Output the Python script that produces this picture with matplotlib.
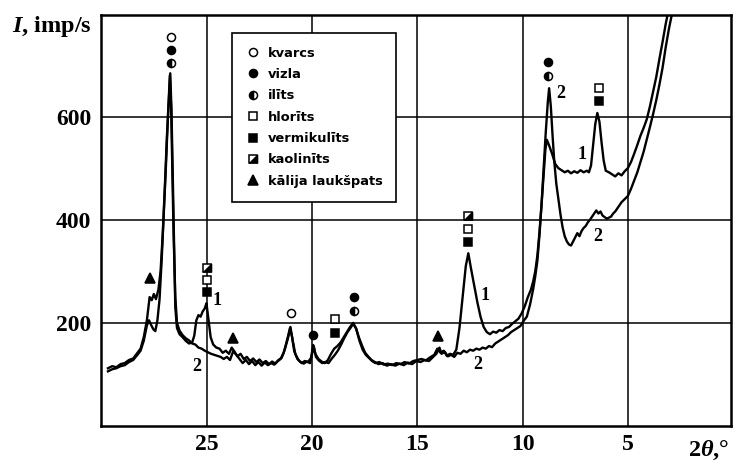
import matplotlib
matplotlib.use("Agg")
import matplotlib.pyplot as plt
from matplotlib.legend_handler import HandlerTuple

plt.rcParams['mathtext.fontset'] = 'custom'
plt.rcParams['mathtext.rm'] = 'Liberation Serif:bold'
plt.rcParams['mathtext.it'] = 'Liberation Serif:italic:bold'
plt.rcParams['mathtext.bf'] = 'Liberation Serif:bold'

# ---------------- data ----------------
c1_x = [29.7, 29.5, 29.3, 29.1, 28.9, 28.7, 28.5, 28.3, 28.15, 28.0, 27.85, 27.72, 27.62, 27.52, 27.42,
        27.3, 27.2, 27.1, 27.0, 26.9, 26.8, 26.74, 26.68, 26.62, 26.56, 26.5, 26.42, 26.3, 26.15, 26.0,
        25.85, 25.7, 25.6, 25.5, 25.4, 25.3, 25.2, 25.1, 25.02, 24.92, 24.82, 24.7, 24.55, 24.4, 24.25,
        24.1, 23.95, 23.82, 23.7, 23.55, 23.4, 23.25, 23.1, 22.95, 22.8, 22.65, 22.5, 22.35, 22.2, 22.05,
        21.9, 21.75, 21.6, 21.45, 21.3, 21.15, 21.03, 20.92, 20.8, 20.65, 20.5, 20.35, 20.2, 20.05, 19.95,
        19.85, 19.7, 19.55, 19.4, 19.25, 19.1, 18.95, 18.8, 18.65, 18.5, 18.35, 18.2, 18.05, 17.9, 17.75,
        17.6, 17.45, 17.3, 17.15, 17.0, 16.8, 16.6, 16.4, 16.2, 16.0, 15.8, 15.6, 15.4, 15.2, 15.0,
        14.8, 14.6, 14.4, 14.2, 14.05, 13.9, 13.75, 13.6, 13.45, 13.3, 13.15, 13.0, 12.85, 12.7, 12.58,
        12.45, 12.3, 12.15, 12.0, 11.85, 11.7, 11.55, 11.4, 11.25, 11.1, 10.95, 10.8, 10.65, 10.5, 10.35,
        10.2, 10.05, 9.9, 9.75, 9.6, 9.5, 9.4, 9.3, 9.2, 9.1, 9.0, 8.92, 8.85, 8.75, 8.6,
        8.45, 8.3, 8.15, 8.0, 7.85, 7.7, 7.55, 7.4, 7.25, 7.1, 6.95, 6.85, 6.75, 6.65, 6.55,
        6.45, 6.35, 6.25, 6.15, 6.05, 5.9, 5.75, 5.6, 5.45, 5.3, 5.15, 5.0, 4.85, 4.7, 4.55,
        4.4, 4.25, 4.1, 3.95, 3.8, 3.65, 3.5, 3.35, 3.2, 3.1]
c1_y = [112, 116, 114, 120, 122, 128, 131, 142, 150, 172, 205, 250, 244, 256, 246,
        265, 300, 370, 460, 560, 640, 684, 610, 480, 340, 230, 190, 178, 172, 165,
        160, 162, 175, 205, 215, 212, 222, 228, 238, 205, 172, 158, 152, 150, 142,
        146, 140, 152, 145, 135, 140, 130, 134, 126, 131, 124, 129, 122, 126, 120,
        125, 121, 128, 132, 148, 170, 192, 165, 140, 128, 122, 126, 124, 132, 157,
        140, 130, 125, 122, 128, 140, 150, 155, 162, 172, 182, 192, 200, 188, 165,
        148, 138, 132, 126, 122, 124, 119, 121, 118, 122, 120, 124, 121, 126, 128,
        130, 127, 133, 138, 150, 142, 146, 136, 140, 138, 148, 190, 250, 310, 335,
        305, 272, 240, 212, 192, 182, 178, 183, 181, 186, 184, 190, 192, 198, 203,
        208, 218, 232, 250, 265, 280, 300, 330, 375, 430, 490, 535, 555, 545, 528,
        508, 500, 496, 492, 495, 490, 494, 491, 496, 492, 495, 492, 505, 545, 585,
        607, 590, 550, 515, 495, 492, 488, 484, 490, 486, 494, 500, 512, 528, 545,
        563, 578, 595, 620, 648, 677, 712, 745, 780, 800]

c2_x = [29.7, 29.5, 29.3, 29.1, 28.9, 28.7, 28.5, 28.3, 28.15, 28.0, 27.85, 27.75, 27.65, 27.55, 27.45,
        27.35, 27.25, 27.15, 27.05, 26.95, 26.85, 26.76, 26.7, 26.64, 26.58, 26.5, 26.42, 26.3, 26.15, 26.0,
        25.85, 25.7, 25.55, 25.4, 25.25, 25.1, 24.95, 24.8, 24.65, 24.5, 24.35, 24.2, 24.05, 23.9, 23.75,
        23.6, 23.45, 23.3, 23.15, 23.0, 22.85, 22.7, 22.55, 22.4, 22.25, 22.1, 21.95, 21.8, 21.65, 21.5,
        21.35, 21.2, 21.05, 20.95, 20.85, 20.7, 20.55, 20.4, 20.25, 20.1, 20.0, 19.92, 19.82, 19.68, 19.52,
        19.38, 19.22, 19.08, 18.92, 18.78, 18.62, 18.48, 18.32, 18.18, 18.05, 17.92, 17.78, 17.62, 17.48, 17.32,
        17.18, 17.02, 16.85, 16.65, 16.45, 16.25, 16.05, 15.85, 15.65, 15.45, 15.25, 15.05, 14.85, 14.65, 14.45,
        14.25, 14.1, 13.95, 13.85, 13.7, 13.55, 13.4, 13.25, 13.1, 12.95, 12.8, 12.65, 12.5, 12.35, 12.2,
        12.05, 11.9, 11.75, 11.6, 11.45, 11.3, 11.15, 11.0, 10.85, 10.7, 10.55, 10.4, 10.25, 10.1, 9.95,
        9.8, 9.65, 9.5, 9.4, 9.3, 9.2, 9.1, 9.0, 8.9, 8.8, 8.74, 8.66, 8.58, 8.5, 8.4,
        8.3, 8.2, 8.1, 8.0, 7.9, 7.8, 7.7, 7.6, 7.5, 7.4, 7.3, 7.2, 7.1, 7.0, 6.9,
        6.8, 6.7, 6.6, 6.5, 6.4, 6.3, 6.2, 6.1, 6.0, 5.9, 5.8, 5.7, 5.6, 5.5, 5.4,
        5.3, 5.2, 5.1, 5.0, 4.85, 4.7, 4.55, 4.4, 4.25, 4.1, 3.95, 3.8, 3.65, 3.5, 3.35,
        3.2, 3.05, 2.9]
c2_y = [106, 110, 112, 116, 118, 124, 128, 138, 146, 165, 195, 205, 196, 188, 184,
        205, 245, 320, 410, 500, 600, 680, 620, 500, 370, 250, 200, 185, 176, 170,
        166, 160, 158, 152, 150, 146, 143, 140, 138, 136, 134, 130, 134, 128, 145,
        138, 130, 122, 128, 120, 126, 118, 124, 117, 123, 118, 122, 119, 125, 130,
        142, 165, 190, 172, 145, 130, 124, 121, 125, 122, 140, 155, 134, 127, 122,
        124, 122, 130, 138, 146, 158, 170, 182, 190, 198, 190, 172, 155, 142, 134,
        128, 124, 120, 122, 117, 120, 117, 121, 118, 123, 120, 126, 124, 128, 126,
        134, 140, 152, 140, 144, 135, 138, 134, 142, 140, 146, 143, 148, 146, 150,
        148, 152, 150, 155, 153, 160, 164, 168, 172, 176, 182, 186, 190, 194, 204,
        212, 235, 265, 290, 320, 370, 430, 500, 570, 630, 655, 620, 565, 515, 470,
        440, 410, 385, 368, 358, 352, 350, 358, 366, 374, 368, 378, 384, 388, 395,
        400, 406, 412, 418, 412, 416, 408, 405, 402, 404, 406, 412, 416, 422, 428,
        434, 438, 442, 446, 460, 476, 492, 512, 532, 556, 580, 605, 632, 662, 695,
        735, 770, 800]

# mineral markers (2theta, I)
kvarcs_x, kvarcs_y = [26.72, 21.0], [754, 219]
vizla_x, vizla_y = [26.72, 19.95, 18.0, 8.8], [729, 177, 250, 706]
ilits_x, ilits_y = [26.72, 18.0, 8.8], [703, 223, 679]
hlorits_x, hlorits_y = [25.0, 18.9, 12.6, 6.37], [284, 207, 382, 655]
vermik_x, vermik_y = [25.0, 18.9, 12.6, 6.37], [260, 180, 357, 631]
kaolin_x, kaolin_y = [25.0, 12.6], [307, 407]
kalija_x, kalija_y = [27.72, 23.75, 14.0], [287, 171, 175]

legend_labels = ['kvarcs', 'vizla', 'ilīts', 'hlorīts', 'vermikulīts', 'kaolinīts', 'kālija laukšpats']

# curve labels
lab_text = ['1', '2', '1', '2', '2', '1', '2']
lab_x = [24.5, 25.5, 11.8, 12.15, 8.2, 7.2, 6.45]
lab_y = [244, 115, 254, 119, 645, 527, 367]

x_ticks = [25, 20, 15, 10, 5]
y_ticks = [200, 400, 600]

# ---------------- figure ----------------
W, H = 736, 461
fig = plt.figure(figsize=(W / 100, H / 100), dpi=100)
L, R, T, B = 101, 731, 15, 426
ax = fig.add_axes([L / W, (H - B) / H, (R - L) / W, (B - T) / H])
ax.set_xlim(30.03, 0.1)
ax.set_ylim(0, 797)

for v in x_ticks:
    ax.axvline(v, color='black', lw=1.1, zorder=1)
for v in y_ticks:
    ax.axhline(v, color='black', lw=1.1, zorder=1)

ax.plot(c1_x, c1_y, color='black', lw=1.7, zorder=3)
ax.plot(c2_x, c2_y, color='black', lw=1.7, zorder=3)

ms = 5.8
mew = 1.1
common = dict(linestyle='none', markeredgecolor='black', markeredgewidth=mew, zorder=5, clip_on=False)
h_kv, = ax.plot(kvarcs_x, kvarcs_y, marker='o', ms=ms, markerfacecolor='white', **common)
h_vi, = ax.plot(vizla_x, vizla_y, marker='o', ms=ms, markerfacecolor='black', **common)
h_il, = ax.plot(ilits_x, ilits_y, marker='o', ms=ms, markerfacecolor='black', fillstyle='left',
                markerfacecoloralt='white', **common)
h_hl, = ax.plot(hlorits_x, hlorits_y, marker='s', ms=ms, markerfacecolor='white', **common)
h_ve, = ax.plot(vermik_x, vermik_y, marker='s', ms=ms, markerfacecolor='black', **common)
h_ka1, = ax.plot(kaolin_x, kaolin_y, marker='s', ms=ms, markerfacecolor='white', **common)
h_ka2, = ax.plot(kaolin_x, kaolin_y, marker=[(1, -1), (1, 1), (-1, -1)], ms=ms,
                 markerfacecolor='black', linestyle='none', markeredgecolor='black',
                 markeredgewidth=mew, zorder=6)
h_kl, = ax.plot(kalija_x, kalija_y, marker='^', ms=7.5, markerfacecolor='black', **common)

for t, x, y in zip(lab_text, lab_x, lab_y):
    ax.text(x, y, t, fontsize=13, family='Liberation Serif', weight='bold',
            ha='center', va='center', zorder=6)

ax.set_xticks(x_ticks)
ax.set_yticks(y_ticks)
ax.set_xticklabels([str(v) for v in x_ticks])
ax.set_yticklabels([str(v) for v in y_ticks])
ax.tick_params(length=0, labelsize=17, pad=7)
ax.tick_params(axis='x', pad=6)
for lbl in ax.get_xticklabels() + ax.get_yticklabels():
    lbl.set_family('Liberation Serif')
    lbl.set_weight('bold')
for s in ax.spines.values():
    s.set_linewidth(1.8)
    s.set_zorder(7)

leg = ax.legend([h_kv, h_vi, h_il, h_hl, h_ve, (h_ka1, h_ka2), h_kl], legend_labels,
                handler_map={tuple: HandlerTuple(ndivide=1, pad=0)},
                loc='upper left', bbox_to_anchor=((232 - L) / (R - L), (B - 33) / (B - T)),
                prop={'family': 'DejaVu Sans', 'weight': 'bold', 'size': 9.4},
                frameon=True, fancybox=False, framealpha=1, edgecolor='black',
                borderpad=1.05, labelspacing=0.64, handlelength=1.1, handletextpad=0.6,
                borderaxespad=0)
leg.get_frame().set_linewidth(1.2)
leg.set_zorder(10)

fig.text(12 / W, 1 - 32 / H, r'$I$, imp/s', fontsize=17.5, family='Liberation Serif',
         weight='bold', ha='left', va='baseline')
fig.text(688 / W, 1 - 456 / H, r'2$\theta$,°', fontsize=17.5, family='Liberation Serif',
         weight='bold', ha='left', va='baseline')

fig.savefig('out.png', dpi=100)
